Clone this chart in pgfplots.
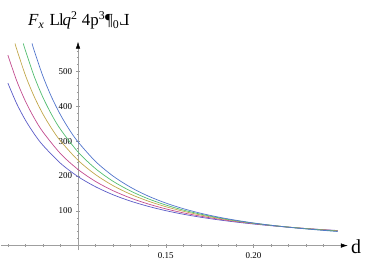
\documentclass[border=0pt]{standalone}
\usepackage{fontspec}
\setmainfont{Liberation Serif}
\usepackage{graphicx}
\usepackage{pgfplots}
\usepackage{pgfplotstable}
\pgfplotsset{compat=1.18}
\usetikzlibrary{arrows.meta}
\definecolor{c1}{rgb}{0.36,0.36,0.78}
\definecolor{c2}{rgb}{0.76,0.30,0.56}
\definecolor{c3}{rgb}{0.76,0.66,0.30}
\definecolor{c4}{rgb}{0.32,0.74,0.44}
\definecolor{c5}{rgb}{0.32,0.46,0.80}

\pgfplotstableread{
d F
0.060 467
0.065 408.3
0.070 360.6
0.075 321.2
0.080 288.2
0.090 236.6
0.100 198.2
0.110 169.0
0.120 146.0
0.130 127.7
0.140 112.8
0.150 100.4
0.160 90.1
0.170 81.4
0.180 74.0
0.190 67.6
0.200 62.0
0.210 57.1
0.220 52.8
0.230 49.0
0.240 45.7
0.248 43.3
}\sA
\pgfplotstableread{
d F
0.060 547.6
0.065 474.2
0.070 415.1
0.075 366.8
0.080 326.6
0.090 264.3
0.100 218.8
0.110 184.3
0.120 157.7
0.130 136.6
0.140 119.6
0.150 105.6
0.160 94.0
0.170 84.4
0.180 76.1
0.190 69.1
0.200 63.0
0.210 57.7
0.220 53.1
0.230 49.0
0.240 45.4
0.248 42.8
}\sB
\pgfplotstableread{
d F
0.0641 581
0.065 565.1
0.070 489.5
0.075 428.3
0.080 377.9
0.085 336.1
0.090 300.8
0.100 245.2
0.110 203.9
0.120 172.2
0.130 147.5
0.140 127.8
0.150 111.8
0.160 98.6
0.170 87.7
0.180 78.5
0.190 70.7
0.200 64.0
0.210 58.2
0.220 53.2
0.230 48.8
0.240 45.0
0.248 42.2
}\sC
\pgfplotstableread{
d F
0.0688 581
0.070 560.8
0.075 486.4
0.080 425.9
0.085 375.9
0.090 334.1
0.100 269.0
0.110 221.0
0.120 184.7
0.130 156.7
0.140 134.5
0.150 116.7
0.160 102.1
0.170 90.2
0.180 80.1
0.190 71.7
0.200 64.5
0.210 58.3
0.220 53.0
0.230 48.4
0.240 44.3
0.248 41.4
}\sD
\pgfplotstableread{
d F
0.0738 581
0.075 560.7
0.080 486.6
0.085 426.0
0.090 375.7
0.095 333.6
0.100 298.0
0.110 241.7
0.120 199.7
0.130 167.5
0.140 142.3
0.150 122.3
0.160 106.1
0.170 92.9
0.180 81.9
0.190 72.8
0.200 65.0
0.210 58.4
0.220 52.7
0.230 47.8
0.240 43.6
0.248 40.5
}\sE

\begin{document}
\begin{tikzpicture}
\path[use as bounding box] (0,0) rectangle (368bp,268bp);
\begin{axis}[
  at={(1.2bp,17.9bp)}, anchor=south west,
  scale only axis, width=346.6bp, height=208.4bp,
  axis lines=middle,
  axis line style={draw=gray!75, line width=0.5bp, -{Latex[length=7bp,width=4.5bp,black]}},
  xmin=-0.0438, xmax=0.1538, ymin=-13, ymax=586,
  xtick={0.05,0.1}, xticklabels={0.15,0.20},
  minor xtick={-0.04,-0.03,-0.02,-0.01,0,0.01,0.02,0.03,0.04,0.06,0.07,0.08,0.09,0.11,0.12,0.13,0.14},
  ytick={100,200,300,400,500},
  minor ytick={20,40,60,80,120,140,160,180,220,240,260,280,320,340,360,380,420,440,460,480,520,540,560},
  major tick length=4bp, minor tick length=2.5bp,
  every tick/.style={gray!80, line width=0.45bp},
  /pgf/number format/assume math mode=true,
  ticklabel style={font=\fontsize{9}{10}\selectfont},
  xticklabel style={yshift=-1bp},
  yticklabel style={xshift=-0.5bp},
  clip=true,
]
\addplot[c1, line width=0.7bp, smooth] table[x expr=\thisrow{d}-0.1, y=F] {\sA};
\addplot[c2, line width=0.7bp, smooth] table[x expr=\thisrow{d}-0.1, y=F] {\sB};
\addplot[c3, line width=0.7bp, smooth] table[x expr=\thisrow{d}-0.1, y=F] {\sC};
\addplot[c4, line width=0.7bp, smooth] table[x expr=\thisrow{d}-0.1, y=F] {\sD};
\addplot[c5, line width=0.7bp, smooth] table[x expr=\thisrow{d}-0.1, y=F] {\sE};
\end{axis}
\node[anchor=base west, inner sep=0pt, font=\fontsize{20}{20}\selectfont] at (351bp,15bp) {d};
\node[anchor=base west, inner sep=0pt, font=\fontsize{17}{17}\selectfont] at (28bp,242bp)
  {\textit{F}\textsubscript{\textit{x}}\ \kern1pt L\kern-1pt l\kern-1pt\textit{q}\textsuperscript{2}\ 4p\textsuperscript{3}¶\textsubscript{0}\reflectbox{L}};
\end{tikzpicture}
\end{document}
